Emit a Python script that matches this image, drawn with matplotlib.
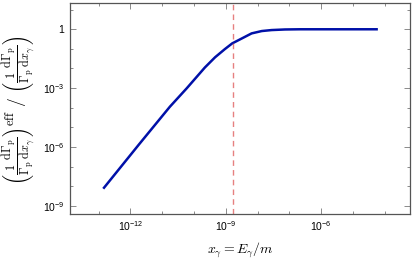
import numpy as np
import matplotlib
matplotlib.use("Agg")
import matplotlib.pyplot as plt
from matplotlib.ticker import FixedLocator, FixedFormatter, NullFormatter

# curve (log10 values)
log_x = [-12.83, -11.73, -10.76, -10.23, -9.66, -9.34, -9.03, -8.80, -8.50,
         -8.19, -7.87, -7.56, -7.14, -6.67, -4.26]
log_y = [-8.08, -5.87, -3.95, -3.01, -1.95, -1.43, -1.01, -0.72, -0.47,
         -0.21, -0.09, -0.04, -0.01, 0.0, 0.0]
x_cut = 1.62e-9  # dashed vertical line

xticks = [1e-12, 1e-9, 1e-6]
xticklabels = ["10$^{-12}$", "10$^{-9}$", "10$^{-6}$"]
yticks = [1e-9, 1e-6, 1e-3, 1]
yticklabels = ["10$^{-9}$", "10$^{-6}$", "10$^{-3}$", "1"]

plt.rcParams['font.family'] = ['Liberation Sans', 'DejaVu Sans']
plt.rcParams['mathtext.fontset'] = 'custom'
plt.rcParams['mathtext.rm'] = 'Liberation Sans'
plt.rcParams['mathtext.it'] = 'Liberation Sans:italic'

fig = plt.figure(figsize=(4.15, 2.59), dpi=100)
ax = fig.add_axes([70 / 415, 45 / 259, 340 / 415, 211 / 259])

xs = 10.0 ** np.array(log_x)
ys = 10.0 ** np.array(log_y)
ax.plot(xs, ys, color='#0010a8', lw=1.8, solid_joinstyle='round')
ax.axvline(x_cut, color='#e06060', lw=1.0, ls=(0, (4, 3)), alpha=0.8)

ax.set_xscale('log')
ax.set_yscale('log')
ax.set_xlim(10 ** -13.9, 10 ** -3.21)
ax.set_ylim(10 ** -9.42, 10 ** 1.34)

ax.xaxis.set_major_locator(FixedLocator(xticks))
ax.xaxis.set_major_formatter(FixedFormatter(xticklabels))
ax.xaxis.set_minor_locator(FixedLocator([10.0 ** k for k in range(-14, -2)]))
ax.xaxis.set_minor_formatter(NullFormatter())
ax.yaxis.set_major_locator(FixedLocator(yticks))
ax.yaxis.set_major_formatter(FixedFormatter(yticklabels))
ax.yaxis.set_minor_locator(FixedLocator([10.0 ** k for k in range(-10, 2)]))
ax.yaxis.set_minor_formatter(NullFormatter())

ax.tick_params(which='both', direction='in', top=True, right=True,
               colors='#777777', labelcolor='black', labelsize=7.5, width=0.6)
ax.tick_params(which='major', length=4, pad=4)
ax.tick_params(which='minor', length=2.5)
for s in ax.spines.values():
    s.set_color('#555555')
    s.set_linewidth(0.9)

ax.set_xlabel(r'$x_\gamma = E_\gamma/m$', fontsize=10, math_fontfamily='cm')
ax.xaxis.set_label_coords(0.5, -0.125)
ax.set_ylabel(r'$\left(\frac{1}{\Gamma_{\rm p}}\frac{\mathrm{d}\Gamma_{\rm p}}{\mathrm{d}x_\gamma}\right)^{\rm eff}'
              r'\ /\ \left(\frac{1}{\Gamma_{\rm p}}\frac{\mathrm{d}\Gamma_{\rm p}}{\mathrm{d}x_\gamma}\right)$',
              fontsize=12.5, math_fontfamily='cm')
ax.yaxis.set_label_coords(-0.097, 0.49)

fig.savefig('out.png', dpi=100)
